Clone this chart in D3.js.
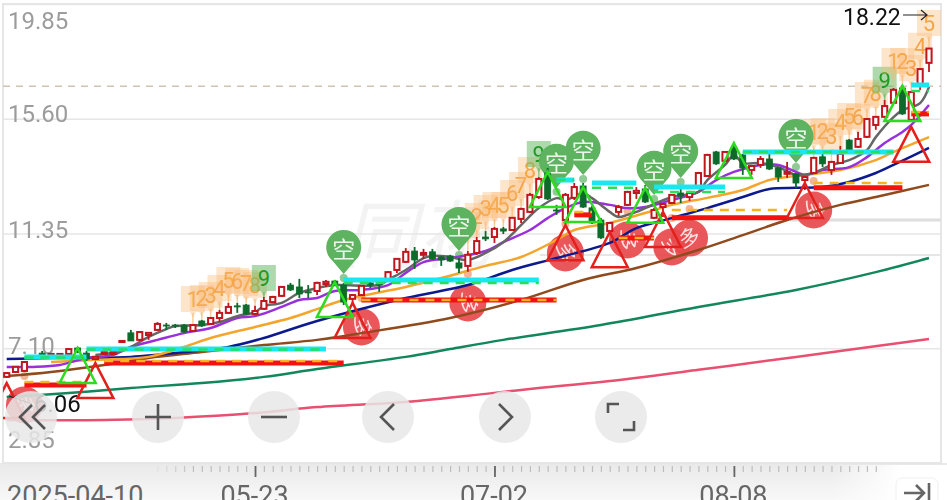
<!DOCTYPE html>
<html>
<head>
<meta charset="utf-8">
<script src="https://cdn.jsdelivr.net/npm/d3@7"></script>
<style>
    html, body { margin: 0; padding: 0; background: #fff; overflow: hidden; }
    svg { display: block; font-family: Roboto, "Noto Sans CJK SC", sans-serif; filter: blur(0.7px); }
</style>
</head>
<body>
<div id="chart"></div>
<script>
//trading days
const dates = ["04-10","04-11","04-14","04-15","04-16","04-17","04-18","04-21","04-22","04-23","04-24","04-25","04-28","04-29","04-30",
    "05-06","05-07","05-08","05-09","05-12","05-13","05-14","05-15","05-16","05-19","05-20","05-21","05-22","05-23",
    "05-26","05-27","05-28","05-29","05-30","06-03","06-04","06-05","06-06","06-09","06-10","06-11","06-12","06-13",
    "06-16","06-17","06-18","06-19","06-20","06-23","06-24","06-25","06-26","06-27","06-30","07-01","07-02",
    "07-03","07-04","07-07","07-08","07-09","07-10","07-11","07-14","07-15","07-16","07-17","07-18","07-21","07-22","07-23","07-24","07-25",
    "07-28","07-29","07-30","07-31","08-01","08-04","08-05","08-06","08-07","08-08",
    "08-11","08-12","08-13","08-14","08-15","08-18","08-19","08-20","08-21","08-22","08-25","08-26","08-27","08-28","08-29",
    "09-01","09-02","09-03","09-04","09-05","09-08","09-09"];

//candles
const opens = [6.04,6.22,6.26,6.81,6.92,6.81,6.85,6.89,7.11,6.92,6.70,6.89,6.89,7.33,7.67,7.41,7.59,7.78,7.96,7.96,7.96,7.74,8.11,8.00,8.22,8.41,8.67,8.70,8.37,8.56,
    8.81,9.04,9.44,9.37,9.19,9.22,9.48,9.59,9.44,8.93,9.07,9.52,9.52,9.63,10.00,10.30,10.70,10.56,10.67,10.48,10.52,10.26,10.15,10.63,11.22,11.22,11.52,11.48,11.89,12.15,
    12.70,13.59,12.22,11.85,12.67,13.11,12.30,11.85,11.44,12.15,12.41,12.85,13.00,11.93,12.33,12.48,12.85,12.70,13.07,13.48,14.37,14.04,14.52,14.26,13.70,13.89,14.11,13.78,13.56,13.56,
    13.33,13.59,14.19,13.70,13.96,14.81,14.56,14.93,15.37,15.67,16.19,16.74,15.56,16.89,17.67];
const closes = [6.18,6.41,6.59,6.74,6.81,6.89,6.89,7.07,6.96,6.70,6.78,6.96,6.96,7.37,7.37,7.70,7.67,8.00,7.93,7.93,7.70,7.96,7.93,8.22,8.41,8.63,8.63,8.37,8.48,8.85,
    9.00,9.37,9.26,9.11,9.15,9.52,9.56,9.44,8.81,9.07,9.41,9.44,9.44,9.92,10.41,10.67,10.37,10.63,10.41,10.37,10.33,10.07,10.56,11.07,11.15,11.52,11.44,11.93,12.26,12.78,
    13.37,12.63,12.19,12.78,13.07,12.33,11.74,11.19,11.74,12.33,12.89,12.93,12.52,12.22,12.44,12.78,12.74,12.85,13.59,14.26,13.93,14.37,14.11,13.78,13.85,14.11,13.74,13.44,13.63,13.22,
    13.44,14.15,13.93,14.00,14.30,14.44,14.85,15.59,15.67,16.07,16.67,15.78,16.59,17.44,18.20];
const highs = [6.22,6.44,6.63,6.85,7.00,6.92,6.92,7.11,7.15,7.00,6.81,7.00,6.98,7.37,7.78,7.74,7.70,8.07,8.04,8.00,8.00,8.00,8.15,8.26,8.52,8.78,8.78,8.74,8.67,9.00,
    9.04,9.41,9.52,9.67,9.44,9.56,9.63,9.63,9.52,9.11,9.44,9.56,9.59,9.96,10.44,10.81,10.85,10.78,10.78,10.52,10.56,10.44,10.70,11.22,11.44,11.59,11.59,11.96,12.30,12.85,
    13.44,13.78,12.41,12.85,13.22,13.22,12.37,11.93,11.78,12.41,12.93,13.07,13.15,12.30,12.48,12.81,13.00,12.93,13.63,14.30,14.41,14.41,14.70,14.30,13.89,14.22,14.33,13.81,14.00,13.59,
    13.48,14.19,14.33,14.04,14.59,14.85,15.11,15.63,15.70,16.30,16.74,16.85,16.63,17.48,18.22];
const lows = [6.00,6.18,6.22,6.70,6.74,6.78,6.81,6.85,6.92,6.63,6.67,6.85,6.87,7.33,7.37,7.37,7.41,7.74,7.78,7.85,7.67,7.70,7.89,7.96,8.07,8.37,8.41,8.33,8.33,8.52,
    8.78,9.00,9.22,8.96,8.96,9.07,9.37,9.41,8.70,8.70,9.04,9.33,9.19,9.59,9.89,10.26,10.04,10.41,10.37,10.15,10.30,9.89,9.93,10.56,11.07,11.00,11.33,11.44,11.74,12.11,
    12.63,12.59,12.04,11.70,12.59,12.30,11.70,11.15,11.41,12.00,12.37,12.63,12.48,11.89,11.96,12.44,12.48,12.56,13.04,13.44,13.89,14.00,14.07,13.52,13.52,13.78,13.70,13.26,13.41,13.04,
    12.96,13.56,13.81,13.52,13.93,14.40,14.52,14.89,15.19,15.63,16.15,15.74,15.52,16.67,17.33];

//moving averages, read at the listed candle positions
const grayIdx = [10,13,14,16,18,19,22,24,26,28,29,31,33,35,37,42,43,45,47,48,50,52,54,56,58,60,62,63,65,66,68,69,70,71,75,78,79,81,82,83,85,87,89,91,93,95,97,98,100,101,103,104];
const grayVal = [6.85,7.00,7.15,7.52,7.81,7.92,7.96,8.07,8.29,8.44,8.66,8.78,9.15,9.33,9.44,9.44,9.63,10.00,10.44,10.52,10.48,10.37,10.63,11.03,11.66,12.29,12.66,12.59,12.85,12.66,12.15,11.96,12.04,12.15,12.70,12.89,13.33,13.89,14.26,13.96,13.96,13.81,13.52,13.59,13.89,14.07,14.44,14.92,15.66,15.92,16.18,16.78];
const purpleIdx = [0,3,6,9,12,14,17,20,23,26,28,31,33,35,37,40,43,45,47,50,54,56,59,61,63,65,68,70,72,75,78,80,82,85,87,89,90,92,95,97,99,101,102,104];
const purpleVal = [6.41,6.41,6.48,6.74,6.85,7.15,7.41,7.66,7.85,8.22,8.29,8.63,8.89,8.96,9.22,9.26,9.44,9.89,10.29,10.44,10.70,11.03,11.48,11.92,12.29,12.52,12.41,12.29,12.33,12.59,12.89,13.33,13.63,13.89,13.89,13.63,13.52,13.70,13.81,14.18,14.70,15.11,15.37,16.11];
const orangeIdx = [5,10,16,20,23,28,32,35,38,45,49,54,58,62,64,68,72,75,79,83,86,90,94,98,100,104];
const orangeVal = [6.59,6.67,6.78,7.15,7.48,7.89,8.22,8.55,8.89,9.37,9.70,10.15,10.48,11.11,11.48,11.74,12.11,12.41,12.67,12.96,13.33,13.52,13.70,14.07,14.37,14.92];
const navyIdx = [0,5,10,14,20,25,29,35,45,52,57,62,68,71,75,79,83,86,89,92,95,98,100,104];
const navyVal = [6.70,6.74,6.74,6.78,6.96,7.15,7.48,8.11,8.96,9.44,10.00,10.44,11.00,11.55,11.92,12.29,12.70,13.00,13.04,13.07,13.26,13.59,13.89,14.52];
const brownIdx = [0,5,11,16,22,29,35,40,50,58,65,71,78,83,88,94,98,104];
const brownVal = [6.07,6.22,6.48,6.74,6.96,7.22,7.41,7.66,8.22,8.89,9.63,10.07,10.74,11.29,11.85,12.41,12.70,13.15];
const greenIdx = [0,7,14,22,29,35,45,50,56,67,78,89,98,104];
const greenVal = [5.29,5.44,5.63,5.81,6.04,6.33,6.78,7.07,7.41,7.96,8.63,9.26,9.92,10.44];
const pinkIdx = [0,11,19,28,35,45,54,60,67,78,89,104];
const pinkVal = [4.44,4.44,4.52,4.70,4.92,5.11,5.41,5.63,5.85,6.30,6.78,7.44];

//signals
const greenTriIdx = [8,37,61,65,72,82,101];
const greenTriTop = [7.11,9.55,13.63,13.07,13.04,14.70,16.81];
const redTriIdx = [0,10,39,63,68,74,90,102];
const redTriTop = [5.81,6.55,8.78,11.66,11.40,12.15,13.22,15.30];
const buyIdx = [2,40,52,63,70,75,77,91];
const buyVal = [5.00,7.89,8.78,10.63,11.11,10.85,11.18,12.22];
const buyTurn = [95,100,105,80,100,70,-20,95];
const sellIdx = [38,51,62,65,73,76,89];
const sellVal = [9.85,10.70,13.04,13.52,12.78,13.41,13.96];

const cyanFrom = [2,9,38,62,66,73,83,102];
const cyanTo = [9,36,60,64,71,81,100,104];
const cyanVal = [6.78,7.07,9.63,13.33,13.22,13.07,14.37,16.85];
const cyanDash = [6.76,7.05,9.52,13.33,13.04,12.89,14.37,16.63];
const redFrom = [2,11,40,64,69,75,91,102];
const redTo = [9,38,62,66,73,88,101,104];
const redVal = [5.74,6.55,8.89,12.04,11.18,11.93,13.04,15.78];
const redDash = [5.85,6.63,8.89,12.15,11.18,12.22,13.22,15.85];

//the counting labels above the candles
const countIdx = [21,22,23,24,25,26,27,28,29,52,53,54,55,56,57,58,59,60,91,92,93,94,95,96,97,98,99,100,101,102,103,104];
const countNum = [1,2,3,4,5,6,7,8,9,1,2,3,4,5,6,7,8,9,1,2,3,4,5,6,7,8,9,1,2,3,4,5];
const countVal = [8.92,8.96,9.07,9.33,9.63,9.59,9.52,9.44,9.70,11.66,12.00,12.29,12.41,12.41,12.85,13.15,13.70,14.29,15.11,15.15,14.96,15.48,15.70,15.67,16.48,16.56,17.04,17.74,17.74,17.48,18.30,19.15];

const yTicks = [19.85,15.60,11.35,7.10,2.85];
const yLabelShift = [24,3,4,5,-16];
const xMajor = [0,28,55,82];
const xLabels = ["2025-04-10","05-23","07-02","08-08"];
const lastHigh = "18.22";
const lastLow = "6.06";
const refPrice = 16.8;

//basic frame size
var width = 947, height = 500;
var plotLeft = 3, plotRight = 941, plotTop = 4, plotBottom = 463;
var upColor = "#c2161f", downColor = "#0e6a2b", redTri = "#e3201c", greenTri = "#2ddc1f";

var svg = d3.select("#chart").append("svg")
    .attr("width", width)
    .attr("height", height);

var x = d3.scalePoint().domain(dates).range([6.7, 929]);
var y = d3.scaleLinear().domain([2.85, 19.85]).range([plotBottom, plotTop]);
var xi = (i) => x(dates[i]);

var defs = svg.append("defs");
defs.append("clipPath").attr("id", "plot").append("rect")
    .attr("x", plotLeft).attr("y", plotTop)
    .attr("width", plotRight - plotLeft).attr("height", plotBottom - plotTop);

var strip = defs.append("linearGradient").attr("id", "strip").attr("x1", 0).attr("x2", 0).attr("y1", 0).attr("y2", 1);
strip.append("stop").attr("offset", 0).attr("stop-color", "#e9e9e9");
strip.append("stop").attr("offset", 1).attr("stop-color", "#f8f8f8");
var stripFade = defs.append("linearGradient").attr("id", "stripFade");
stripFade.append("stop").attr("offset", 0).attr("stop-color", "#fff").attr("stop-opacity", 0);
stripFade.append("stop").attr("offset", 1).attr("stop-color", "#fff").attr("stop-opacity", 1);

//bottom strip
svg.append("rect").attr("x", 0).attr("y", plotBottom).attr("width", width).attr("height", height - plotBottom).attr("fill", "url(#strip)");
svg.append("rect").attr("x", 830).attr("y", plotBottom + 2).attr("width", 70).attr("height", 35).attr("fill", "url(#stripFade)");
svg.append("rect").attr("x", 900).attr("y", plotBottom + 2).attr("width", 47).attr("height", 35).attr("fill", "#fff");

//frame
svg.append("rect").attr("x", plotLeft).attr("y", plotTop)
    .attr("width", plotRight - plotLeft).attr("height", plotBottom - plotTop)
    .attr("fill", "#fff").attr("stroke", "#e6e6e6").attr("stroke-width", 2);

//watermark
svg.append("text").attr("x", 343).attr("y", 262).attr("font-size", 74).attr("fill", "#f3f3f3")
    .attr("font-style", "italic").text("同花");

//price axis, grid lines and labels
var yAxis = svg.append("g").attr("class", "y-axis")
    .attr("transform", "translate(" + plotLeft + ",0)")
    .call(d3.axisRight(y).tickValues(yTicks).tickSize(plotRight - plotLeft).tickFormat(d3.format(".2f")));
yAxis.select(".domain").remove();
yAxis.selectAll(".tick line").attr("stroke", "#e6e6e6").attr("stroke-width", 1.5);
yAxis.selectAll(".tick text")
    .attr("x", 5)
    .attr("dy", (d, i) => yLabelShift[i])
    .attr("font-size", 24)
    .attr("font-family", "Roboto")
    .attr("fill", "#9c9c9c");

//blurry rules seen on the right side
svg.append("line").attr("x1", 790).attr("x2", plotRight).attr("y1", 220).attr("y2", 220).attr("stroke", "#dedede").attr("stroke-width", 3);
svg.append("line").attr("x1", 540).attr("x2", plotRight).attr("y1", 255).attr("y2", 255).attr("stroke", "#e6e6e6").attr("stroke-width", 2);

//last price rule
svg.append("line").attr("x1", plotLeft).attr("x2", plotRight)
    .attr("y1", y(refPrice)).attr("y2", y(refPrice))
    .attr("stroke", "#cfc4b2").attr("stroke-width", 1.5).attr("stroke-dasharray", "7 6");

var plot = svg.append("g").attr("clip-path", "url(#plot)");

//counting labels
var counts = plot.selectAll(".count")
    .data(countIdx)
    .enter()
    .append("g")
    .attr("class", "count")
    .attr("transform", (d, i) => "translate(" + xi(d) + "," + y(countVal[i]) + ")");
counts.append("path")
    .attr("d", (d, i) => "M-12,-13H12V13H3L0,19L-3,13H-12Z")
    .attr("fill", (d, i) => countNum[i] == 9 ? "#69b96a" : "#f9b871")
    .attr("opacity", (d, i) => countNum[i] == 9 ? 0.55 : 0.36);
counts.append("line")
    .attr("y1", 14)
    .attr("y2", (d, i) => y(highs[d]) - y(countVal[i]))
    .attr("stroke", (d, i) => countNum[i] == 9 ? "#69b96a" : "#f9b871")
    .attr("stroke-width", 1.5)
    .attr("opacity", 0.7);
counts.append("text")
    .attr("text-anchor", "middle")
    .attr("dy", 8)
    .attr("font-size", 22)
    .attr("fill", (d, i) => countNum[i] == 9 ? "#1f9a22" : "#f4a545")
    .text((d, i) => countNum[i]);

//buy discs
var buys = plot.selectAll(".buy")
    .data(buyIdx)
    .enter()
    .append("g")
    .attr("class", "buy")
    .attr("transform", (d, i) => "translate(" + xi(d) + "," + y(buyVal[i]) + ")");
buys.append("circle").attr("r", 18.5).attr("fill", "#e8494d").attr("opacity", 0.92);
buys.append("circle").attr("cy", -29).attr("r", 4).attr("fill", "#f2a07c").attr("opacity", 0.8);
buys.append("text")
    .attr("text-anchor", "middle")
    .attr("dy", 7)
    .attr("font-size", 21)
    .attr("fill", "#fbe3e3")
    .attr("transform", (d, i) => "rotate(" + buyTurn[i] + ")")
    .text("多");

//sell balloons
var sells = plot.selectAll(".sell")
    .data(sellIdx)
    .enter()
    .append("g")
    .attr("class", "sell")
    .attr("transform", (d, i) => "translate(" + xi(d) + "," + y(sellVal[i]) + ")");
sells.append("path")
    .attr("d", "M0,0L-11,-13A17.5,17.5 0 1 1 11,-13Z")
    .attr("fill", "#5db35f");
sells.append("circle").attr("cy", 4).attr("r", 4).attr("fill", "#8fc994");
sells.append("text")
    .attr("text-anchor", "middle")
    .attr("y", -16)
    .attr("font-size", 23)
    .attr("fill", "#eaf6ea")
    .text("空");

//moving averages
var maLine = d3.line().x((d) => xi(d[0])).y((d) => y(d[1])).curve(d3.curveCatmullRom);
var maSeries = [
    [pinkIdx, pinkVal, "#e84f70"],
    [greenIdx, greenVal, "#12875c"],
    [brownIdx, brownVal, "#8f4a1e"],
    [navyIdx, navyVal, "#0d1a8e"],
    [orangeIdx, orangeVal, "#f4a52c"],
    [purpleIdx, purpleVal, "#9a30dc"],
    [grayIdx, grayVal, "#666666"]
];
maSeries.forEach((s) => {
    plot.append("path")
        .datum(s[0].map((d, i) => [d, s[1][i]]))
        .attr("fill", "none")
        .attr("stroke", s[2])
        .attr("stroke-width", 2.5)
        .attr("d", maLine);
});

//candles
var candles = plot.selectAll(".candle")
    .data(dates)
    .enter()
    .append("g")
    .attr("class", "candle");
var isUp = (i) => closes[i] >= opens[i];
candles.append("line")
    .attr("x1", (d) => x(d)).attr("x2", (d) => x(d))
    .attr("y1", (d, i) => y(highs[i]))
    .attr("y2", (d, i) => y(lows[i]))
    .attr("stroke", (d, i) => isUp(i) ? upColor : downColor)
    .attr("stroke-width", 1.8);
candles.append("rect")
    .attr("x", (d, i) => x(d) - (isUp(i) ? 2.6 : 3))
    .attr("width", (d, i) => isUp(i) ? 5.2 : 6)
    .attr("y", (d, i) => y(Math.max(opens[i], closes[i])))
    .attr("height", (d, i) => Math.max(1, Math.abs(y(opens[i]) - y(closes[i]))))
    .attr("fill", (d, i) => isUp(i) ? "#fff" : downColor)
    .attr("stroke", (d, i) => isUp(i) ? upColor : downColor)
    .attr("stroke-width", (d, i) => isUp(i) ? 2 : 0.8);

//level bars
function bars(from, to, val, color, w, dash) {
    plot.selectAll(null)
        .data(from)
        .enter()
        .append("line")
        .attr("x1", (d) => xi(d))
        .attr("x2", (d, i) => xi(to[i]))
        .attr("y1", (d, i) => y(val[i]))
        .attr("y2", (d, i) => y(val[i]))
        .attr("stroke", color)
        .attr("stroke-width", w)
        .attr("stroke-dasharray", dash);
}
bars(cyanFrom, cyanTo, cyanVal, "#19e6ee", 5, null);
bars(cyanFrom, cyanTo, cyanDash, "#26e05a", 2.5, "9 7");
bars(redFrom, redTo, redVal, "#f21212", 5, null);
bars(redFrom, redTo, redDash, "#f7b21e", 2.5, "9 7");

//triangles
function triangles(idx, top, color) {
    plot.selectAll(null)
        .data(idx)
        .enter()
        .append("path")
        .attr("transform", (d, i) => "translate(" + xi(d) + "," + y(top[i]) + ")")
        .attr("d", "M0,0L18,35H-18Z")
        .attr("fill", "none")
        .attr("stroke", color)
        .attr("stroke-width", 2.5);
}
triangles(redTriIdx, redTriTop, redTri);
triangles(greenTriIdx, greenTriTop, greenTri);

//high and low labels
svg.append("text").attr("x", 843).attr("y", 25).attr("font-size", 23).attr("fill", "#111").text(lastHigh);
svg.append("path").attr("d", "M903,15H927M921,10L927,15L921,20")
    .attr("fill", "none").attr("stroke", "#222").attr("stroke-width", 1.2);
svg.append("text").attr("x", 34).attr("y", 412).attr("font-size", 24).attr("fill", "#111").text(lastLow);
svg.append("line").attr("x1", 9).attr("x2", 32).attr("y1", 396).attr("y2", 404).attr("stroke", "#222").attr("stroke-width", 1.2);

//round buttons over the chart
var buttonX = [31, 158, 274, 388, 505, 621];
var buttonIcon = [
    "M14,-12L2,0L14,12M1,-12L-11,0L1,12",
    "M-13,0H13M0,-13V13",
    "M-13,0H13",
    "M6,-13L-7,0L6,13",
    "M-6,-13L7,0L-6,13",
    "M-13,-4V-13H-2M13,4V13H2"
];
var buttons = svg.selectAll(".button")
    .data(buttonX)
    .enter()
    .append("g")
    .attr("class", "button")
    .attr("transform", (d) => "translate(" + d + ",417)");
buttons.append("circle").attr("r", 26).attr("fill", "#e8e8e8").attr("opacity", 0.85);
buttons.append("path")
    .attr("d", (d, i) => buttonIcon[i])
    .attr("fill", "none")
    .attr("stroke", "#555")
    .attr("stroke-width", 2.6);

//time axis
var minor = svg.append("g")
    .attr("transform", "translate(0," + (plotBottom + 3) + ")")
    .call(d3.axisBottom(x).tickValues(dates.slice(17, 99)).tickSize(6).tickFormat(""));
minor.select(".domain").remove();
minor.selectAll(".tick line")
    .attr("stroke", "#bdbdbd")
    .attr("stroke-width", 1.2)
    .attr("opacity", (d, i) => Math.min(1, (i + 1) / 5));

var major = svg.append("g")
    .attr("transform", "translate(0," + (plotBottom + 3) + ")")
    .call(d3.axisBottom(x).tickValues(xMajor.map((d) => dates[d])).tickSize(11)
        .tickFormat((d, i) => xLabels[i]));
major.select(".domain").remove();
major.selectAll(".tick line").attr("stroke", "#666").attr("stroke-width", 1.8)
    .attr("opacity", (d, i) => i == 0 ? 0 : 1);
major.selectAll(".tick text")
    .attr("y", 39)
    .attr("dy", 0)
    .attr("x", (d, i) => i == 0 ? 68 : -1)
    .attr("font-size", 27)
    .attr("font-family", "Roboto")
    .attr("fill", "#666");

//jump to end button
svg.append("rect").attr("x", 896).attr("y", 478).attr("width", 42).attr("height", 30).attr("rx", 6)
    .attr("fill", "#fff").attr("stroke", "#f0f0f0");
svg.append("path").attr("d", "M904,493H924M916,485L924,493L916,501M929,483V503")
    .attr("fill", "none").attr("stroke", "#666").attr("stroke-width", 2.6);
</script>
</body>
</html>
